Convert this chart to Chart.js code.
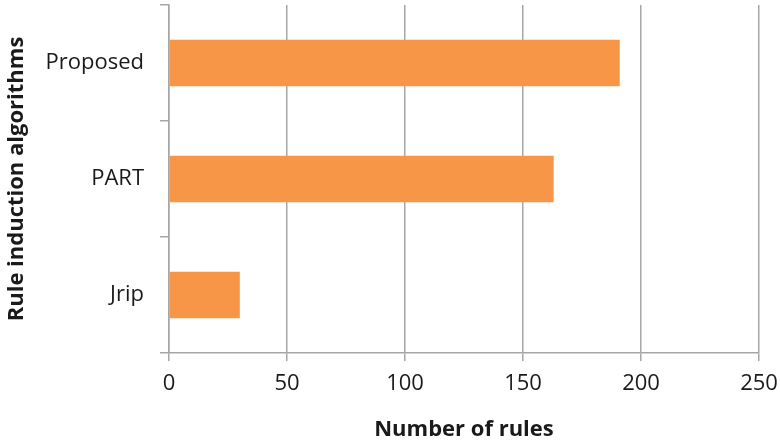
<!DOCTYPE html>
<html>
<head>
<meta charset="utf-8">
<script src="https://cdn.jsdelivr.net/npm/chart.js@4/dist/chart.umd.min.js"></script>
<style>
  html, body { margin: 0; padding: 0; background: #fff; }
  #wrap { width: 780px; height: 441px; position: relative; }
</style>
</head>
<body>
<div id="wrap"><canvas id="rulesChart"></canvas></div>
<script>
const algorithms = ["Proposed", "PART", "Jrip"];
const ruleCounts = [191, 163, 30];
const xTicks = [0, 50, 100, 150, 200, 250];

const gridGray = "#a6a6a6";
const fontFamily = "'Open Sans', 'Noto Sans', sans-serif";

let ctx = document.getElementById("rulesChart").getContext("2d");
new Chart(ctx, {
    type: "bar",
    data: {
        labels: algorithms,
        datasets: [{
            data: ruleCounts,
            backgroundColor: "#f79646",
            borderWidth: 0,
            categoryPercentage: 1,
            barPercentage: 0.4,
        }]
    },
    options: {
        indexAxis: "y",
        responsive: true,
        maintainAspectRatio: false,
        animation: false,
        layout: { padding: { top: 5, right: 21, left: 0, bottom: 0 } },
        plugins: { legend: { display: false }, tooltip: { enabled: false } },
        scales: {
            x: {
                min: 0,
                max: 250,
                afterBuildTicks: (scale) => { scale.ticks = xTicks.map(v => ({ value: v })); },
                afterFit: (scale) => {
                    // fixed axis band, no extra room for the edge labels
                    scale.height = 88;
                    scale.paddingLeft = 0;
                    scale.paddingRight = 0;
                },
                border: { color: gridGray, width: 1.5 },
                grid: { color: gridGray, lineWidth: 1.5, tickLength: 8, drawOnChartArea: true },
                ticks: { color: "#1a1a1a", font: { family: fontFamily, size: 22 }, padding: 10, maxRotation: 0 },
                title: {
                    display: true,
                    text: "Number of rules",
                    color: "#1a1a1a",
                    font: { family: fontFamily, size: 22, weight: "bold" },
                    padding: { top: 0, bottom: -2 }
                }
            },
            y: {
                afterFit: (scale) => {
                    scale.width = 169;
                    scale.paddingTop = 0;
                    scale.paddingBottom = 0;
                },
                border: { color: gridGray, width: 1.5 },
                grid: { color: gridGray, lineWidth: 1.5, tickLength: 9, drawOnChartArea: false, offset: true },
                ticks: { color: "#1a1a1a", font: { family: fontFamily, size: 22 }, padding: 16 },
                title: {
                    display: true,
                    text: "Rule induction algorithms",
                    color: "#1a1a1a",
                    font: { family: fontFamily, size: 22, weight: "bold" },
                    padding: { top: 4, bottom: 0 }
                }
            }
        }
    }
});
</script>
</body>
</html>
